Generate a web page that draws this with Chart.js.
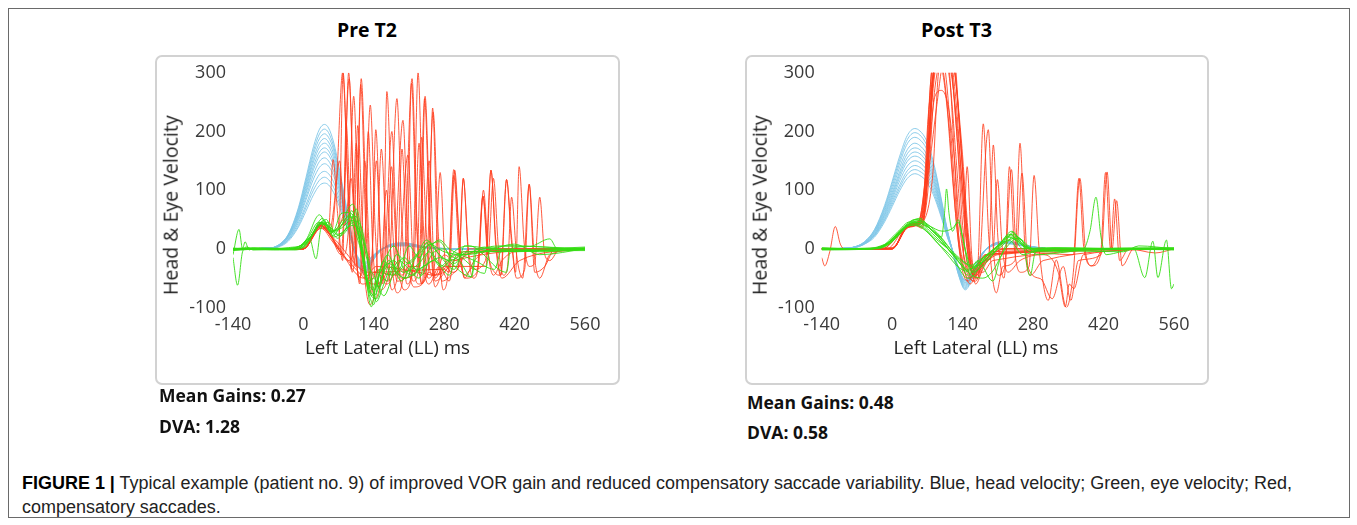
<!DOCTYPE html>
<html>
<head>
<meta charset="utf-8">
<script src="https://cdn.jsdelivr.net/npm/chart.js@4.4.1/dist/chart.umd.min.js"></script>
<style>
  html, body { margin: 0; padding: 0; background: #fff; }
  body { width: 1357px; height: 525px; position: relative; overflow: hidden; }
  .frame { position: absolute; left: 8px; top: 8px; width: 1342px; height: 510px; border: 1px solid #6a6a6a; box-sizing: border-box; }
  .box { position: absolute; top: 55px; height: 330px; border: 2px solid #d2d2d2; border-radius: 7px; box-sizing: border-box; }
  .abs { position: absolute; white-space: nowrap; line-height: 1.25; }
  canvas { position: absolute; top: 55px; }
</style>
</head>
<body>
<div class="frame"></div>
<div class="box" style="left:155px;width:465px"></div>
<div class="box" style="left:745px;width:464px"></div>
<canvas id="preChart" width="465" height="329" style="left:155px"></canvas>
<canvas id="postChart" width="464" height="329" style="left:745px"></canvas>
<script>
// axis ticks
const timeTicks = [-140, 0, 140, 280, 420, 560];
const velocityTicks = [-100, 0, 100, 200, 300];

// head velocity (blue), Pre T2 – one row per trial, sampled at preHeadTimes
const preHeadTimes = [-140, -70, -50, -30, -10, 5, 20, 32, 42, 50, 60, 72, 85, 98, 110, 122, 135, 150, 175, 200, 240, 300, 560];
const preHead = [
  [0, 1, 6, 25, 70, 121, 174, 204, 212, 206, 182, 134, 74, 13, -30, -42, -25, -6, 8, 10, 4, 0, 0],
  [0, 1, 6, 24, 67, 116, 167, 196, 204, 198, 175, 128, 71, 12, -29, -41, -24, -6, 8, 10, 4, 0, 0],
  [0, 1, 6, 24, 65, 112, 161, 188, 196, 190, 169, 123, 69, 12, -28, -40, -24, -6, 7, 9, 3, 0, 0],
  [0, 1, 6, 23, 62, 107, 154, 180, 188, 182, 162, 118, 66, 11, -27, -38, -23, -5, 7, 9, 3, 0, 0],
  [0, 1, 5, 22, 59, 103, 148, 173, 180, 175, 155, 113, 63, 11, -26, -37, -22, -5, 7, 9, 3, 0, 0],
  [0, 1, 5, 21, 57, 98, 141, 165, 172, 167, 148, 108, 60, 10, -25, -35, -21, -5, 6, 8, 3, 0, 0],
  [0, 1, 5, 20, 54, 94, 135, 158, 165, 160, 142, 104, 58, 10, -24, -34, -20, -5, 6, 8, 3, 0, 0],
  [0, 1, 5, 19, 51, 88, 127, 149, 155, 150, 133, 98, 54, 9, -22, -32, -19, -4, 6, 8, 2, 0, 0],
  [0, 1, 4, 17, 48, 83, 119, 139, 145, 141, 125, 91, 51, 9, -21, -30, -18, -4, 5, 7, 2, 0, 0],
  [0, 1, 4, 16, 44, 75, 108, 127, 132, 128, 114, 83, 46, 8, -19, -27, -16, -4, 5, 6, 2, 0, 0],
  [0, 1, 4, 15, 40, 70, 100, 117, 122, 118, 105, 77, 43, 7, -18, -25, -15, -3, 5, 6, 2, 0, 0],
  [0, 1, 3, 13, 37, 64, 92, 108, 112, 109, 96, 71, 39, 7, -16, -23, -14, -3, 4, 5, 2, 0, 0]
];

// eye velocity (green), Pre T2 – [ms, deg/s] pairs per trial
const preEye = [
  [[-140, -10], [-128, 33], [-121, 0], [-116, 12], [-108, -2], [-100, 1], [-40, 1], [-10, 3], [10, 20], [30, 45], [45, 42], [58, 22], [75, 40], [95, 60], [110, 25], [125, -50], [136, -80], [150, -45], [170, -25], [190, -35], [210, 5], [230, -15], [250, 8], [280, -5], [320, -10], [360, 3], [420, -5], [560, 2]],
  [[-140, -15], [-131, -62], [-121, -5], [-112, 3], [-100, -2], [-50, 0], [-15, 2], [5, 15], [32, 58], [45, 40], [56, 28], [75, 45], [98, 76], [110, 40], [122, -30], [135, -99], [145, -60], [160, -20], [175, -45], [200, -30], [225, -10], [245, 15], [265, -5], [290, -20], [330, -5], [560, -3]],
  [[-140, -3], [-80, 0], [-20, -2], [0, 3], [20, 28], [38, 45], [52, 30], [70, 35], [90, 52], [105, 55], [118, 0], [130, -60], [142, -70], [155, -30], [168, -10], [185, -40], [205, -50], [220, -20], [240, 0], [271, 12], [290, -10], [310, -20], [334, -48], [342, 0], [380, -5], [560, 0]],
  [[-140, 0], [-60, -2], [-10, 0], [12, 18], [25, -17], [35, 35], [50, 45], [65, 25], [82, 30], [96, 65], [108, 35], [124, -40], [132, -75], [146, -85], [160, -40], [180, -20], [198, -40], [230, -25], [250, -5], [272, -30], [300, -10], [360, -42], [372, 0], [420, 5], [560, -2]],
  [[-140, 1], [-90, -1], [-30, 2], [5, 10], [30, 40], [46, 50], [60, 20], [80, 30], [100, 45], [112, 10], [128, -55], [140, -50], [150, -65], [165, -15], [180, 5], [200, -35], [220, -45], [245, 10], [262, -15], [280, -30], [300, -5], [330, 5], [404, -40], [412, 0], [450, 4], [490, 17], [505, 0], [560, 0]],
  [[-140, -2], [-70, 1], [-20, 0], [8, 12], [28, 38], [42, 44], [55, 35], [72, 22], [92, 40], [105, 68], [118, 20], [130, -20], [145, -90], [160, -60], [175, -30], [195, -55], [215, -30], [235, -45], [255, -10], [280, 0], [300, -25], [311, -15], [320, 5], [400, -2], [560, 3]],
  [[-140, 0], [-100, 2], [-40, -1], [0, 4], [25, 35], [40, 48], [58, 28], [75, 60], [90, 62], [102, 30], [115, -5], [127, -65], [140, -95], [152, -45], [166, -55], [185, -10], [210, -25], [230, -5], [250, 12], [270, -10], [300, -35], [318, -5], [360, -5], [450, -3], [560, 0]],
  [[-140, 0], [-50, 0], [0, 2], [20, 25], [36, 42], [52, 36], [68, 18], [85, 35], [100, 40], [115, 25], [130, -30], [140, -45], [160, -80], [180, -40], [200, -15], [225, -35], [260, -20], [290, -45], [305, -10], [340, -20], [380, -35], [395, 0], [470, -5], [560, -1]],
  [[-140, 1], [-30, 0], [10, 15], [35, 45], [50, 38], [65, 30], [90, 55], [100, 50], [140, -80], [170, -20], [200, -50], [240, -30], [272, -15], [334, -48], [345, -5], [400, 5], [560, 0]],
  [[-140, -1], [-20, 1], [15, 22], [38, 52], [55, 30], [75, 35], [95, 48], [110, 45], [125, 0], [137, -70], [150, -35], [170, -45], [190, -20], [210, -35], [230, -50], [245, -10], [271, 15], [290, 0], [320, -10], [360, -5], [420, 8], [470, -10], [560, 0]]
];

// compensatory saccades (red), Pre T2
const preSaccades = [
  [[-140, 0], [-5, 0], [35, 40], [50, 28], [66, 120], [78, 300], [88, 120], [97, -40], [106, 40], [115, 290], [125, 70], [134, -55], [148, -35], [158, -60], [166, 268], [176, 60], [186, -55], [205, -45], [215, 282], [224, 60], [235, -60], [250, -40], [262, -45], [280, -10], [300, -20], [340, -5], [560, 0]],
  [[-140, 0], [0, 0], [35, 45], [52, 30], [80, 60], [90, 300], [100, 90], [110, -50], [122, 10], [133, 245], [143, 30], [152, -70], [170, -40], [186, 256], [196, 40], [206, -60], [218, -20], [228, 300], [238, 50], [248, -50], [262, -20], [272, 130], [282, -20], [300, -40], [330, 0], [560, 0]],
  [[-140, 0], [0, 0], [35, 38], [50, 35], [59, 152], [68, 60], [78, -20], [85, 214], [94, 40], [104, -30], [114, 280], [124, 40], [134, -75], [144, 203], [154, 0], [164, -60], [180, -30], [198, 219], [208, 20], [218, -55], [230, -30], [241, 256], [251, 40], [262, -65], [280, -30], [320, -5], [560, 0]],
  [[-140, 0], [0, 0], [38, 42], [55, 25], [70, 0], [79, 300], [87, 140], [95, -35], [105, 180], [115, 20], [132, -95], [145, -40], [155, 170], [165, 10], [176, -70], [190, -30], [208, 160], [218, -20], [230, -60], [245, -30], [258, 233], [268, 30], [278, -70], [289, -30], [299, 135], [310, 20], [320, -50], [340, -20], [380, 0], [560, 0]],
  [[-140, 0], [0, 0], [35, 40], [55, 20], [75, -10], [91, 290], [101, 60], [112, -60], [122, 150], [132, -20], [142, -85], [155, -40], [165, 100], [175, -20], [186, -75], [200, -35], [216, 290], [226, 40], [236, -60], [250, 150], [262, -50], [280, -30], [308, -30], [318, 120], [328, -10], [338, -50], [348, -30], [358, 100], [368, -10], [378, -45], [395, -20], [420, -5], [560, 0]],
  [[-140, 0], [0, 0], [35, 35], [60, 10], [110, -40], [140, -60], [165, -40], [175, 140], [185, 0], [195, -50], [225, -40], [235, 190], [245, 20], [255, -45], [289, -30], [299, 125], [309, 0], [320, -45], [340, -30], [363, -30], [373, 134], [383, 10], [393, -45], [404, 118], [414, 20], [422, -40], [429, 140], [439, 10], [449, -30], [460, -25], [470, 88], [480, -10], [490, -20], [510, 0], [560, 0]],
  [[-140, 0], [0, 0], [35, 38], [60, 15], [120, -50], [145, -30], [230, -40], [260, -45], [290, -30], [347, -30], [357, 90], [367, -10], [378, 120], [388, 0], [398, -45], [406, -30], [414, 88], [424, -10], [436, -50], [449, 110], [460, -40], [480, -30], [500, 0], [560, 0]],
  [[-140, 0], [0, 0], [35, 42], [55, 22], [80, -10], [90, 40], [100, 260], [110, 40], [120, -45], [129, 200], [138, 0], [148, -65], [160, -40], [176, 200], [186, 0], [196, -45], [210, -30], [232, -30], [242, 260], [252, 40], [262, -55], [290, -30], [312, -10], [560, 0]],
  [[-140, 0], [0, 0], [35, 40], [55, 25], [72, 150], [82, 40], [95, 120], [105, -20], [118, -60], [135, -30], [145, 150], [155, -20], [168, -55], [186, -40], [200, -70], [220, -20], [230, 180], [240, -30], [250, -60], [270, -30], [290, -55], [300, -20], [560, 0]],
  [[-140, 0], [0, 0], [36, 44], [56, 20], [90, -20], [100, 0], [108, 210], [118, 30], [128, -65], [140, -40], [186, -45], [196, 170], [206, 0], [220, -65], [248, -40], [257, 240], [266, 20], [276, -55], [300, -40], [310, -20], [318, 120], [328, 0], [338, -35], [362, -20], [373, 134], [383, 0], [395, -50], [430, -20], [560, 0]],
  [[-140, 0], [0, 0], [35, 36], [60, 18], [130, -40], [280, -35], [290, -40], [301, 134], [311, 0], [322, -50], [345, -40], [357, 90], [367, -5], [380, -40], [392, -45], [404, 118], [414, 10], [424, -50], [440, -35], [449, 110], [459, -10], [470, -50], [490, -10], [560, 0]]
];

// head velocity (blue), Post T3
const postHeadTimes = [-140, -90, -75, -55, -35, -15, 0, 15, 30, 45, 55, 68, 82, 96, 110, 120, 132, 145, 160, 178, 200, 230, 270, 320, 560];
const postHead = [
  [0, 1, 3, 12, 33, 74, 115, 158, 193, 205, 201, 185, 148, 92, 31, -4, -45, -70, -50, -12, 8, 13, 5, 0, 0],
  [0, 1, 3, 12, 32, 71, 111, 152, 186, 198, 194, 178, 143, 89, 30, -4, -44, -68, -48, -12, 8, 12, 5, 0, 0],
  [0, 1, 3, 11, 30, 68, 106, 146, 179, 190, 186, 171, 137, 86, 29, -4, -42, -66, -47, -11, 8, 12, 5, 0, 0],
  [0, 1, 3, 11, 29, 65, 101, 139, 169, 180, 176, 162, 130, 81, 27, -4, -40, -64, -45, -11, 7, 11, 4, 0, 0],
  [0, 1, 3, 10, 28, 62, 96, 132, 162, 172, 169, 155, 124, 77, 26, -3, -39, -62, -44, -10, 7, 11, 4, 0, 0],
  [0, 1, 3, 10, 26, 59, 92, 127, 155, 165, 162, 149, 119, 74, 25, -3, -38, -60, -42, -10, 7, 10, 4, 0, 0],
  [0, 1, 3, 9, 25, 57, 88, 122, 149, 158, 155, 142, 114, 71, 24, -3, -36, -58, -41, -10, 6, 10, 4, 0, 0],
  [0, 1, 3, 9, 24, 54, 84, 116, 141, 150, 147, 135, 108, 68, 23, -3, -35, -57, -40, -9, 6, 10, 4, 0, 0],
  [0, 1, 2, 9, 23, 51, 80, 109, 133, 142, 139, 128, 102, 64, 21, -3, -34, -55, -39, -9, 6, 9, 4, 0, 0],
  [0, 1, 2, 8, 22, 49, 76, 104, 127, 135, 132, 122, 97, 61, 20, -3, -33, -54, -38, -9, 6, 9, 4, 0, 0],
  [0, 1, 2, 8, 20, 46, 72, 99, 120, 128, 125, 115, 92, 58, 19, -3, -32, -53, -37, -9, 5, 9, 3, 0, 0]
];

// eye velocity (green), Post T3
const postEye = [
  [[-140, 0], [-60, 0], [-30, 3], [0, 15], [25, 38], [45, 50], [60, 45], [80, 30], [100, 12], [120, -10], [140, -30], [155, -40], [175, -20], [200, -5], [230, 20], [245, 15], [270, 0], [300, -3], [560, 0]],
  [[-140, -2], [-40, 0], [-10, 8], [20, 35], [40, 48], [55, 52], [75, 35], [95, 18], [115, -5], [135, -25], [150, -45], [165, -35], [190, -10], [215, 10], [238, 30], [255, 10], [275, -5], [320, 2], [560, -2]],
  [[-140, 0], [-50, 1], [-20, 4], [10, 25], [35, 42], [50, 45], [70, 38], [98, 20], [104, 60], [108, 102], [113, 60], [120, 30], [131, 50], [140, 20], [155, -35], [170, -20], [200, -55], [215, -15], [240, 20], [260, 5], [300, 0], [560, 0]],
  [[-140, 1], [-60, -1], [-25, 2], [5, 20], [30, 40], [48, 46], [65, 40], [90, 25], [115, 0], [140, -20], [160, -30], [185, -20], [210, 0], [235, 22], [258, 15], [274, -46], [285, -5], [320, 0], [560, 1]],
  [[-140, 0], [-30, 0], [0, 12], [30, 38], [45, 42], [62, 35], [85, 15], [110, -10], [130, -30], [148, -38], [170, -25], [195, -5], [225, 12], [245, 18], [265, 5], [300, -5], [380, 0], [393, 30], [405, 88], [415, 20], [425, -10], [440, -8], [480, 0], [560, 0]],
  [[-140, -1], [-50, 0], [-15, 5], [15, 30], [38, 44], [52, 48], [72, 40], [100, 30], [120, 35], [131, 45], [145, 0], [160, -40], [178, -30], [200, -10], [235, 25], [260, 0], [300, 2], [400, 0], [560, -1]],
  [[-140, 0], [-40, 0], [-5, 10], [25, 36], [45, 40], [65, 32], [90, 10], [120, -15], [150, -50], [162, -45], [185, -15], [205, 0], [232, 15], [260, -10], [300, 0], [480, 0], [502, -49], [518, 13], [528, -49], [545, 15], [555, -68], [560, -60]],
  [[-140, 2], [-60, 0], [-20, 5], [10, 28], [35, 46], [55, 44], [80, 26], [105, 5], [130, -15], [155, -28], [180, -15], [210, 5], [240, 25], [262, 10], [290, -10], [350, -5], [400, 0], [560, 2]],
  [[-140, 0], [-40, 1], [0, 14], [30, 40], [50, 50], [70, 42], [95, 22], [115, 0], [135, -25], [158, -45], [180, -50], [198, -40], [225, 0], [250, 18], [280, 0], [330, -3], [460, -5], [490, 5], [560, 0]],
  [[-140, -1], [-50, 0], [-10, 6], [20, 30], [40, 44], [58, 40], [82, 20], [108, 2], [132, -18], [150, -35], [172, -28], [196, -10], [222, 8], [240, 28], [262, 5], [300, -2], [560, 0]]
];

// compensatory saccades (red), Post T3
const postSaccades = [
  [[-140, -15], [-134, -29], [-124, -5], [-113, 38], [-103, 8], [-95, 0], [-20, 0], [15, 25], [38, 40], [55, 45], [66, 90], [78, 260], [92, 360], [108, 380], [124, 330], [136, 180], [148, 40], [158, -35], [170, -50], [185, -20], [205, -5], [240, 0], [560, 0]],
  [[-140, 0], [-20, 0], [20, 30], [40, 42], [58, 38], [70, 120], [82, 300], [98, 380], [114, 340], [128, 200], [140, 40], [150, -30], [160, -55], [170, -30], [181, 213], [192, 20], [207, -75], [220, -30], [244, -20], [254, 180], [264, 0], [275, -45], [300, -20], [560, 0]],
  [[-140, 0], [-10, 0], [25, 35], [45, 40], [60, 35], [72, 150], [84, 320], [100, 350], [114, 300], [124, 150], [133, 10], [140, -20], [149, 140], [158, -10], [170, -50], [191, 203], [201, 0], [212, -45], [224, -30], [233, 140], [243, 0], [255, -40], [272, -30], [282, 125], [292, 0], [310, -88], [326, -19], [346, -100], [360, -40], [373, 120], [385, -10], [397, -29], [420, 0], [560, 0]],
  [[-140, 0], [0, 0], [30, 38], [48, 44], [62, 60], [74, 200], [86, 330], [100, 360], [116, 320], [132, 160], [145, 30], [156, -35], [168, -45], [182, -20], [192, -10], [201, 177], [210, 20], [222, -50], [237, 135], [247, 0], [258, 129], [270, -32], [295, -51], [318, -85], [340, -30], [355, -88], [370, -20], [415, -10], [427, 131], [437, 0], [446, 82], [457, -29], [480, 0], [560, 0]],
  [[-140, 0], [0, 2], [30, 36], [50, 42], [66, 70], [78, 240], [92, 340], [108, 370], [124, 310], [138, 160], [150, 20], [160, -45], [172, -35], [185, -20], [200, -10], [209, 118], [219, 0], [230, -40], [254, -20], [300, -10], [330, -40], [344, -99], [352, -60], [361, -68], [380, -10], [560, 0]],
  [[-140, 0], [0, 0], [32, 40], [52, 45], [68, 140], [82, 300], [98, 330], [114, 290], [130, 120], [142, -10], [154, -50], [166, -55], [180, -25], [200, -10], [250, -5], [360, -10], [371, 120], [381, 0], [397, -29], [414, -10], [424, 130], [434, 0], [442, 85], [452, -20], [470, 0], [523, -7], [560, 0]],
  [[-140, 0], [0, 1], [28, 34], [46, 40], [62, 50], [72, 180], [82, 320], [94, 340], [106, 300], [118, 180], [130, 40], [142, -30], [155, -60], [168, -40], [185, -10], [560, 0]],
  [[-140, 0], [0, 0], [34, 42], [50, 46], [64, 90], [76, 280], [92, 360], [110, 350], [126, 260], [140, 100], [152, -20], [164, -45], [176, -30], [195, -15], [220, 0], [560, 0]],
  [[-140, 0], [0, 0], [30, 38], [52, 40], [70, 90], [82, 250], [98, 320], [114, 310], [128, 220], [142, 80], [154, -20], [166, -35], [180, -40], [200, -20], [560, 0]],
  [[-140, 0], [0, 0], [30, 40], [50, 44], [60, 60], [72, 230], [84, 300], [96, 310], [108, 250], [120, 120], [132, 10], [144, -40], [154, -50], [168, -30], [190, -10], [560, 0]],
  [[-140, 0], [0, 0], [35, 42], [55, 42], [75, 150], [88, 240], [102, 320], [118, 330], [134, 210], [146, 60], [156, -20], [166, -60], [180, -35], [205, 0], [560, 0]],
  [[-140, 0], [0, 0], [30, 36], [52, 44], [72, 160], [85, 260], [98, 270], [112, 240], [124, 150], [134, 40], [146, -25], [162, -50], [180, -30], [210, -10], [560, 0]],
  [[-140, 0], [0, 0], [32, 38], [52, 42], [80, 120], [92, 300], [108, 340], [124, 300], [138, 180], [152, 20], [164, -40], [178, -25], [200, -5], [560, 0]],
  [[-140, 0], [0, 0], [30, 40], [50, 45], [66, 110], [78, 300], [90, 330], [102, 300], [114, 200], [126, 60], [138, -30], [150, -55], [164, -40], [185, -10], [560, 0]]
];

const BLUE = 'rgba(128, 198, 232, 0.9)';
const GREEN = 'rgba(52, 222, 20, 0.9)';
const RED = 'rgba(255, 62, 30, 0.85)';
const TICK_FONT = { family: 'Open Sans', size: 18 };

function pairs(trace) {
  return trace.map(p => ({ x: p[0], y: p[1] }));
}

function makeChart(id, headTimes, head, eye, saccades, yWidth) {
  const datasets = [];
  eye.forEach(t => datasets.push({ data: pairs(t), borderColor: GREEN, order: 0 }));
  saccades.forEach(t => datasets.push({ data: pairs(t), borderColor: RED, order: 1 }));
  head.forEach(v => datasets.push({ data: v.map((y, i) => ({ x: headTimes[i], y: y })), borderColor: BLUE, order: 2 }));

  return new Chart(document.getElementById(id), {
    type: 'line',
    data: { datasets: datasets },
    options: {
      responsive: false,
      animation: false,
      events: [],
      parsing: false,
      layout: { padding: { left: 0, top: 15, right: 35, bottom: 0 } },
      plugins: { legend: { display: false }, tooltip: { enabled: false } },
      elements: {
        point: { radius: 0 },
        line: { borderWidth: 1, cubicInterpolationMode: 'monotone', fill: false }
      },
      scales: {
        x: {
          type: 'linear', min: -140, max: 560,
          afterBuildTicks: s => { s.ticks = timeTicks.map(v => ({ value: v })); },
          afterFit: s => { s.height = 76.5; },
          grid: { display: false, drawTicks: false },
          border: { display: false },
          ticks: { padding: 7, font: TICK_FONT, color: '#3a3a3a', autoSkip: false, maxRotation: 0 }
        },
        y: {
          min: -100, max: 300,
          afterBuildTicks: s => { s.ticks = velocityTicks.map(v => ({ value: v })); },
          afterFit: s => { s.width = yWidth; },
          grid: { display: false, drawTicks: false },
          border: { display: false },
          ticks: { padding: 7, font: TICK_FONT, color: '#3a3a3a', autoSkip: false }
        }
      }
    }
  });
}

makeChart('preChart', preHeadTimes, preHead, preEye, preSaccades, 78);
makeChart('postChart', postHeadTimes, postHead, postEye, postSaccades, 76.7);

// text labels
function addText(o) {
  const d = document.createElement('div');
  d.className = 'abs';
  d.innerHTML = o.html;
  d.style.fontFamily = o.family || "'Open Sans'";
  d.style.fontWeight = o.weight || 400;
  d.style.fontSize = o.size + 'px';
  d.style.color = o.color || '#111';
  document.body.appendChild(d);
  let r = d.getBoundingClientRect();
  if (o.width) {
    d.style.fontSize = (o.size * o.width / r.width) + 'px';
    r = d.getBoundingClientRect();
  }
  const left = o.anchor === 'center' ? o.x - r.width / 2 : o.x;
  d.style.left = left + 'px';
  d.style.top = (o.y - r.height / 2) + 'px';
  if (o.rotate) {
    d.style.transformOrigin = 'center center';
    d.style.transform = 'rotate(-90deg)';
  }
  return d;
}

addText({ html: 'Pre T2', x: 367, y: 30, size: 19, width: 60, weight: 700, anchor: 'center', color: '#000' });
addText({ html: 'Post T3', x: 956.5, y: 30, size: 19, width: 71, weight: 700, anchor: 'center', color: '#000' });

addText({ html: 'Left Lateral (LL) ms', x: 387.5, y: 347, size: 18, width: 165, anchor: 'center', color: '#222' });
addText({ html: 'Left Lateral (LL) ms', x: 976, y: 347, size: 18, width: 165, anchor: 'center', color: '#222' });
addText({ html: 'Head &amp; Eye Velocity', x: 171, y: 205, size: 18, width: 180, anchor: 'center', rotate: true, color: '#222' });
addText({ html: 'Head &amp; Eye Velocity', x: 760, y: 205, size: 18, width: 180, anchor: 'center', rotate: true, color: '#222' });

addText({ html: 'Mean Gains: 0.27', x: 159, y: 396, size: 17.5, weight: 700, color: '#111' });
addText({ html: 'DVA: 1.28', x: 159, y: 427, size: 17.5, weight: 700, color: '#111' });
addText({ html: 'Mean Gains: 0.48', x: 747, y: 403, size: 17.5, weight: 700, color: '#111' });
addText({ html: 'DVA: 0.58', x: 747, y: 433, size: 17.5, weight: 700, color: '#111' });

// caption, slightly condensed
const cap1 = addText({ html: '<b style="color:#000">FIGURE 1 |</b> Typical example (patient no. 9) of improved VOR gain and reduced compensatory saccade variability. Blue, head velocity; Green, eye velocity; Red,', x: 22, y: 483, size: 18, family: "'Liberation Sans'", color: '#222' });
const cap2 = addText({ html: 'compensatory saccades.', x: 22, y: 507, size: 18, family: "'Liberation Sans'", color: '#222' });
const capScale = 1270 / cap1.getBoundingClientRect().width;
[cap1, cap2].forEach(el => {
  el.style.transformOrigin = 'left center';
  el.style.transform = 'scaleX(' + capScale + ')';
});
</script>
</body>
</html>
